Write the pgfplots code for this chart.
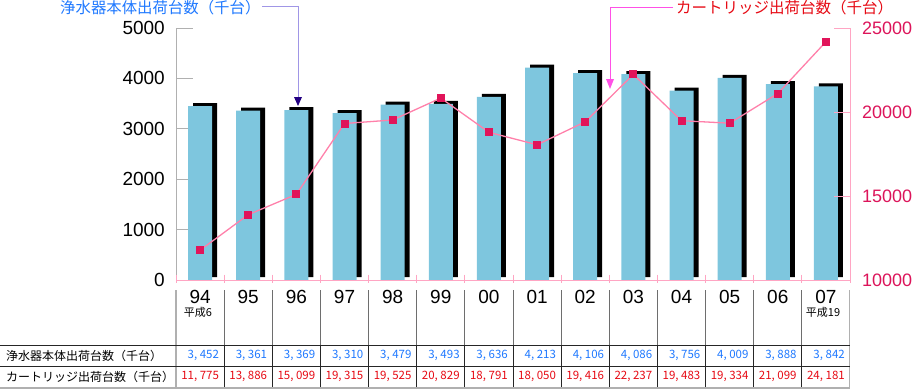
\documentclass[border=0pt]{standalone}
\usepackage{pgfplots}
\pgfplotsset{compat=1.18}
\usepackage{fontspec}
\setmainfont{Liberation Sans}
\newfontfamily\jpfont{Noto Sans CJK JP}
\definecolor{barblue}{RGB}{126,198,222}
\definecolor{linepink}{RGB}{255,128,170}
\definecolor{markred}{RGB}{225,20,90}
\definecolor{ticklabelred}{RGB}{220,20,90}
\definecolor{axispink}{RGB}{255,165,195}
\definecolor{axisgray}{RGB}{176,176,176}
\definecolor{sepgray}{RGB}{110,110,110}
\definecolor{txtblue}{RGB}{30,120,255}
\definecolor{txtred}{RGB}{230,10,20}
\definecolor{lavender}{RGB}{160,150,230}
\definecolor{navy}{RGB}{35,0,130}
\definecolor{magentaarrow}{RGB}{255,80,230}
\begin{document}
\begin{tikzpicture}
\path[use as bounding box] (0pt,0pt) rectangle (913pt,-389pt);
% left axis with bars
\begin{axis}[
  at={(176pt,-280pt)}, anchor=south west,
  scale only axis, width=674pt, height=252pt,
  xmin=-0.5, xmax=13.5, ymin=0, ymax=5000,
  axis x line=none, axis y line*=left,
  y axis line style={draw=axisgray, line width=0.9pt},
  ytick={0,1000,2000,3000,4000,5000},
  tick align=inside, major tick length=17pt,
  ytick style={draw=axisgray, line width=0.9pt},
  yticklabel style={font=\fontsize{19}{19}\selectfont, inner sep=0pt, xshift=-11pt},
  /pgf/number format/assume math mode=true,
  /pgf/number format/1000 sep={},
  clip=false,
]
\addplot[ybar, bar width=24pt, bar shift=5pt, fill=black, draw=none, yshift=3pt] coordinates {
(0,3452) (1,3361) (2,3369) (3,3310) (4,3479) (5,3493) (6,3636) (7,4213) (8,4106) (9,4086) (10,3756) (11,4009) (12,3888) (13,3842)};
\addplot[ybar, bar width=24pt, bar shift=0pt, fill=barblue, draw=none] coordinates {
(0,3452) (1,3361) (2,3369) (3,3310) (4,3479) (5,3493) (6,3636) (7,4213) (8,4106) (9,4086) (10,3756) (11,4009) (12,3888) (13,3842)};
\end{axis}
% right axis with line
\begin{axis}[
  at={(176pt,-280pt)}, anchor=south west,
  scale only axis, width=674pt, height=252pt,
  xmin=-0.5, xmax=13.5, ymin=10000, ymax=25000,
  axis x line*=bottom, axis y line*=right,
  x axis line style={draw=axispink, line width=1pt},
  y axis line style={draw=axispink, line width=0.9pt},
  xtick={0,...,13},
  xticklabels={94,95,96,97,98,99,00,01,02,03,04,05,06,07},
  xtick style={draw=none},
  xticklabel style={font=\fontsize{19}{19}\selectfont, anchor=base, inner sep=0pt, yshift=-23pt},
  ytick={10000,15000,20000,25000},
  ytick style={draw=axispink, line width=0.9pt},
  tick align=inside, major tick length=16pt,
  yticklabel style={font=\fontsize{18}{18}\selectfont, text=ticklabelred, inner sep=0pt, xshift=12pt},
  scaled y ticks=false,
  /pgf/number format/assume math mode=true,
  /pgf/number format/1000 sep={},
  clip=false,
]
\addplot[color=linepink, line width=1.3pt, mark=square*, mark size=3.5pt, mark options={fill=markred, draw=markred, line width=0pt}] coordinates {
(0,11775) (1,13886) (2,15099) (3,19315) (4,19525) (5,20829) (6,18791) (7,18050) (8,19416) (9,22237) (10,19483) (11,19334) (12,21099) (13,24181)};
\end{axis}
\begin{scope}[x=1pt,y=-1pt]
% boundary ticks on the pink base line
\foreach \i in {0,...,14} {
  \pgfmathsetmacro\xx{176+48.14*\i}
  \draw[axispink, line width=0.9pt] (\xx,274.5) -- (\xx,283);
}
% separators
\foreach \i in {1,...,13} {
  \pgfmathsetmacro\xx{176+48.14*\i}
  \draw[sepgray, line width=0.8pt] (\xx,290) -- (\xx,345);
  \draw[black!85, line width=0.8pt] (\xx,345) -- (\xx,387);
}
\draw[axisgray, line width=1.6pt] (176,290) -- (176,387);
\draw[axisgray, line width=1.6pt] (849.5,290) -- (849.5,388);
\draw[black!85, line width=0.8pt] (0,345) -- (849.5,345);
\draw[black!85, line width=0.8pt] (0,366) -- (849.5,366);
\draw[axisgray, line width=2pt] (0,387.8) -- (850.3,387.8);
% era labels
\node[inner sep=0pt, font=\jpfont\fontsize{11}{11}\selectfont] at (198,312) {平成6};
\node[inner sep=0pt, font=\jpfont\fontsize{11}{11}\selectfont] at (823,312) {平成19};
% table row labels
\node[anchor=west, inner sep=0pt, font=\jpfont\fontsize{12}{12}\selectfont] at (6,355.5) {浄水器本体出荷台数（千台）};
\node[anchor=west, inner sep=0pt, font=\jpfont\fontsize{12}{12}\selectfont] at (6,376.5) {カートリッジ出荷台数（千台）};
% table values
\foreach \v [count=\i] in {{3, 452},{3, 361},{3, 369},{3, 310},{3, 479},{3, 493},{3, 636},{4, 213},{4, 106},{4, 086},{3, 756},{4, 009},{3, 888},{3, 842}} {
  \pgfmathsetmacro\xx{176+48.14*\i-5}
  \node[anchor=east, inner sep=0pt, text=txtblue, font=\jpfont\fontsize{11.5}{11.5}\selectfont] at (\xx,355.5) {\v};
}
\foreach \v [count=\i] in {{11, 775},{13, 886},{15, 099},{19, 315},{19, 525},{20, 829},{18, 791},{18, 050},{19, 416},{22, 237},{19, 483},{19, 334},{21, 099},{24, 181}} {
  \pgfmathsetmacro\xx{176+48.14*\i-5}
  \node[anchor=east, inner sep=0pt, text=txtred, font=\jpfont\fontsize{11.5}{11.5}\selectfont] at (\xx,376.5) {\v};
}
% annotations
\node[anchor=west, inner sep=0pt, text=txtblue, font=\jpfont\fontsize{15.4}{15.4}\selectfont] at (60,7.5) {浄水器本体出荷台数（千台）};
\draw[lavender, line width=0.9pt] (262,6) -- (298,6) -- (298,98);
\fill[navy] (294,97) -- (302,97) -- (298,106) -- cycle;
\node[anchor=west, inner sep=0pt, text=txtred, font=\jpfont\fontsize{15.5}{15.5}\selectfont] at (676,7.5) {カートリッジ出荷台数（千台）};
\draw[magentaarrow, line width=0.9pt] (673,7) -- (610,7) -- (610,80);
\fill[magentaarrow] (606,79) -- (614,79) -- (610,89) -- cycle;
\end{scope}
\end{tikzpicture}
\end{document}
